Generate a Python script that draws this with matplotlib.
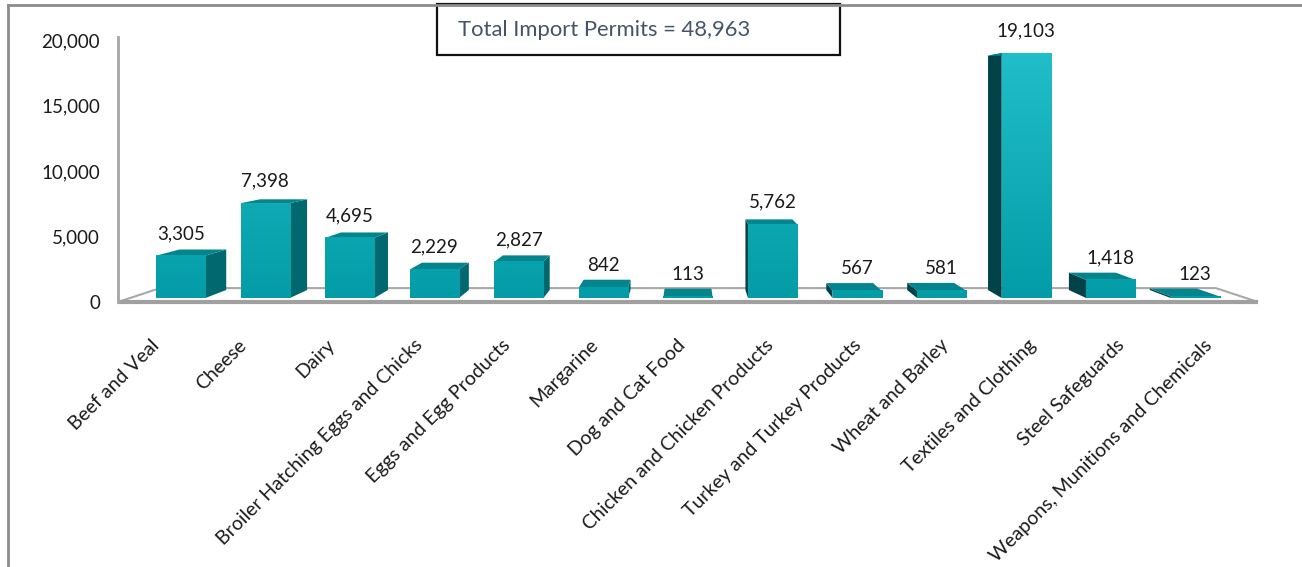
import numpy as np
import matplotlib.pyplot as plt
from matplotlib.patches import Polygon, Rectangle
from matplotlib.lines import Line2D
from matplotlib.colors import LinearSegmentedColormap

plt.rcParams['font.family'] = ['Lato', 'DejaVu Sans']

categories = ['Beef and Veal', 'Cheese', 'Dairy', 'Broiler Hatching Eggs and Chicks',
              'Eggs and Egg Products', 'Margarine', 'Dog and Cat Food',
              'Chicken and Chicken Products', 'Turkey and Turkey Products',
              'Wheat and Barley', 'Textiles and Clothing', 'Steel Safeguards',
              'Weapons, Munitions and Chemicals']
permits = [3305, 7398, 4695, 2229, 2827, 842, 113, 5762, 567, 581, 19103, 1418, 123]
total_permits = 48963
y_ticks = [0, 5000, 10000, 15000, 20000]

# fake 3d: every point slides toward a vanishing point as it goes back
VP = (6.0, 14350.0)
T_BAR_FRONT = 0.021
T_BAR_BACK = 0.0636
T_FLOOR_BACK = 0.074
HALF_W = 0.29
X_LO, X_HI = 6 - 6.6, 6 + 6.6


def recede(x, y, t):
    return (x + t * (VP[0] - x), y + t * (VP[1] - y))


front_cmap = LinearSegmentedColormap.from_list('teal', ['#039ca6', '#22bfcc'])
side_right = '#00686e'
side_left = '#02434a'
top_col = '#03858d'

fig = plt.figure(figsize=(13.02, 5.67), dpi=100)
ax = fig.add_axes([118 / 1302, 265 / 567, 1140 / 1302, 262 / 567])
ax.set_xlim(X_LO, X_HI)
ax.set_ylim(0, 20000)

# floor
fl = [recede(X_LO, 0, 0), recede(X_HI, 0, 0),
      recede(X_HI, 0, T_FLOOR_BACK), recede(X_LO, 0, T_FLOOR_BACK)]
ax.add_patch(Polygon(fl, closed=True, facecolor='white', edgecolor='#a8a8a8',
                     lw=1.5, zorder=1, clip_on=False))
ax.plot([X_LO, X_HI], [0, 0], color='#a0a0a0', lw=3, zorder=1.5,
        clip_on=False, solid_capstyle='butt')

for i, v in enumerate(permits):
    xl, xr = i - HALF_W, i + HALF_W
    # side face toward the vanishing point
    if i != VP[0]:
        xs = xr if i < VP[0] else xl
        side = [recede(xs, 0, T_BAR_FRONT), recede(xs, v, T_BAR_FRONT),
                recede(xs, v, T_BAR_BACK), recede(xs, 0, T_BAR_BACK)]
        ax.add_patch(Polygon(side, closed=True, lw=0, zorder=3, clip_on=False,
                             facecolor=side_right if i < VP[0] else side_left))
    top = [recede(xl, v, T_BAR_FRONT), recede(xr, v, T_BAR_FRONT),
           recede(xr, v, T_BAR_BACK), recede(xl, v, T_BAR_BACK)]
    ax.add_patch(Polygon(top, closed=True, lw=0, facecolor=top_col, zorder=3,
                         clip_on=False))
    front = [recede(xl, 0, T_BAR_FRONT), recede(xr, 0, T_BAR_FRONT),
             recede(xr, v, T_BAR_FRONT), recede(xl, v, T_BAR_FRONT)]
    fpatch = Polygon(front, closed=True, lw=0, facecolor='none', zorder=4,
                     clip_on=False)
    ax.add_patch(fpatch)
    yb, yt = front[0][1], front[2][1]
    grad = np.linspace(yb, yt, 64).reshape(-1, 1) / 20000
    im = ax.imshow(grad, cmap=front_cmap, vmin=0, vmax=1, origin='lower',
                   extent=[front[0][0], front[1][0], yb, yt], aspect='auto',
                   zorder=4, clip_on=False)
    im.set_clip_path(fpatch)
    lx, ly = recede(i, v, T_BAR_FRONT)
    ax.annotate(f'{v:,}', (lx, ly), xytext=(0, 16), textcoords='offset points',
                ha='center', va='center', fontsize=13.5, color='#1a1a1a',
                zorder=6, annotation_clip=False)

ax.set_xlim(X_LO, X_HI)
ax.set_ylim(0, 20000)

for s in ['top', 'right', 'bottom']:
    ax.spines[s].set_visible(False)
ax.spines['left'].set_color('#a6a6a6')
ax.spines['left'].set_linewidth(2)
ax.spines['left'].set_bounds(0, 20200)

ax.set_yticks(y_ticks)
ax.set_yticklabels([f'{t:,}' for t in y_ticks])
ax.tick_params(axis='y', length=0, pad=13, labelsize=13.5, labelcolor='#1a1a1a')

label_x = [6 + (i - 6) * 1.016 - 0.06 for i in range(len(categories))]
ax.set_xticks(label_x)
ax.set_xticklabels(categories, rotation=45, ha='right', va='center',
                   rotation_mode='anchor')
ax.tick_params(axis='x', length=0, pad=29, labelsize=14, labelcolor='#1a1a1a')

# outer frame and the total box
fig.add_artist(Line2D([7.5 / 1302, 1], [1 - 5 / 567] * 2, color='#8c8c8c', lw=2))
fig.add_artist(Line2D([7.5 / 1302] * 2, [0, 1 - 5 / 567], color='#8c8c8c', lw=2))
fig.add_artist(Rectangle((437 / 1302, 1 - 55 / 567), 403 / 1302, 51 / 567,
                         transform=fig.transFigure, facecolor='white',
                         edgecolor='#111111', lw=1.6))
fig.text(458 / 1302, 1 - 30 / 567, f'Total Import Permits = {total_permits:,}',
         fontsize=15.8, color='#44546a', va='center', ha='left')

fig.savefig('out.png', dpi=100)
